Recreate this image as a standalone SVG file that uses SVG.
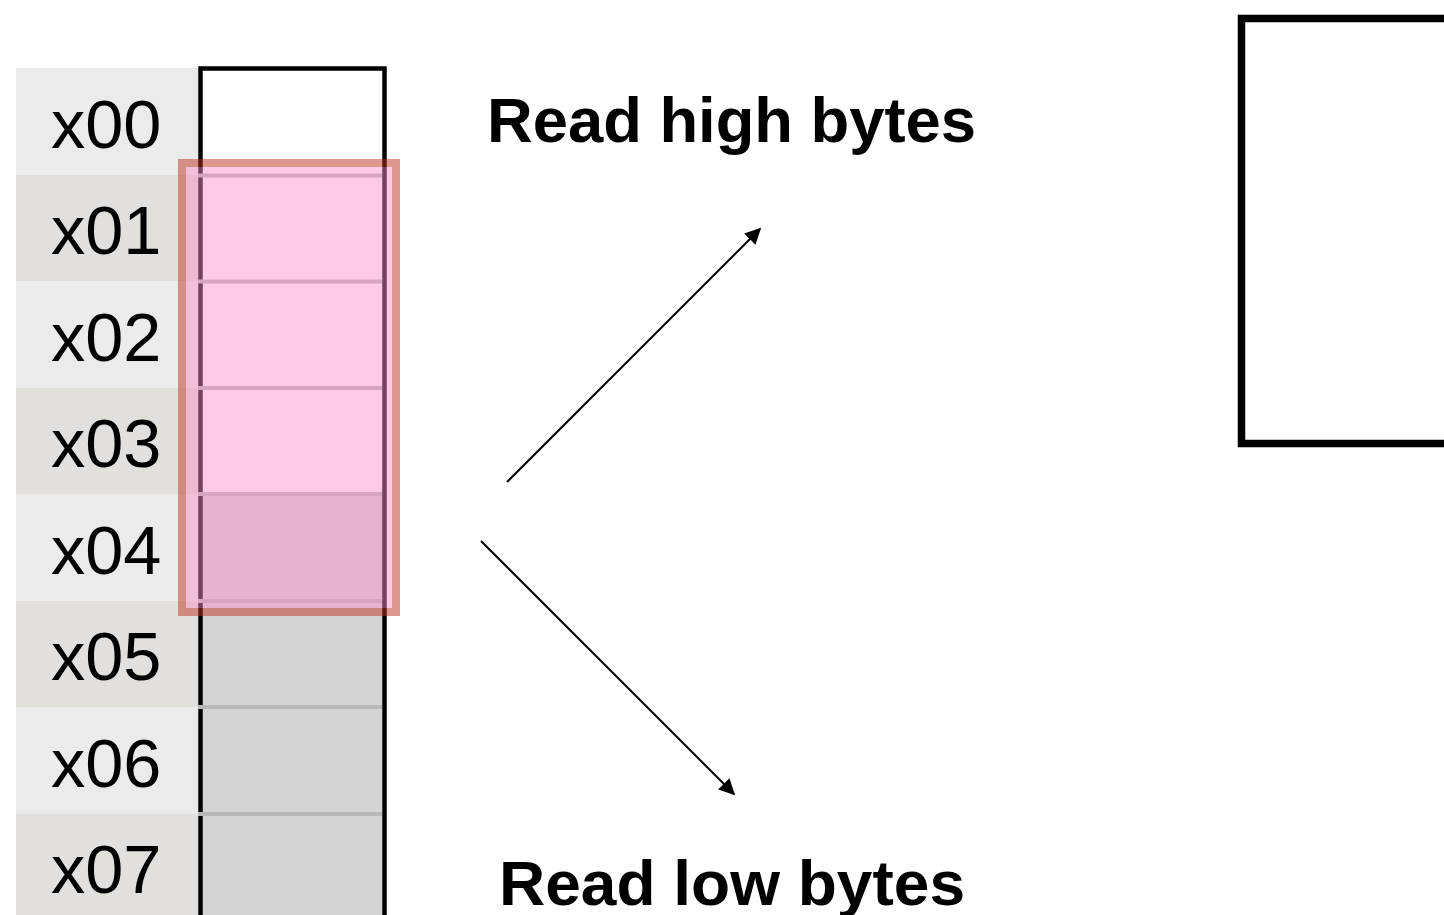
<svg xmlns="http://www.w3.org/2000/svg" width="1444" height="915" viewBox="0 0 1444 915">
<style>
.lbl{font-family:"Liberation Sans",Arial,sans-serif;font-size:68.5px;fill:#000}
.title{font-family:"Liberation Sans",Arial,sans-serif;font-size:63.5px;font-weight:bold;fill:#000}
.rowA{fill:#ebebeb}
.rowB{fill:#e1e0dc}
.sep{fill:#b8b8b8}
.conn{stroke:#000;stroke-width:2;fill:none;marker-end:url(#ah)}
</style>
<defs>
<marker id="ah" viewBox="0 0 10 10" refX="9" refY="5" markerWidth="9" markerHeight="8" markerUnits="strokeWidth" orient="auto">
<path d="M0,0 L10,5 L0,10 z" fill="#000"/>
</marker>
</defs>
<rect width="1444" height="915" fill="#fff"/>
<g id="labels">
<rect class="rowA" x="16" y="68" width="184" height="107"/>
<rect class="rowB" x="16" y="175" width="184" height="106"/>
<rect class="rowA" x="16" y="281" width="184" height="107"/>
<rect class="rowB" x="16" y="388" width="184" height="106"/>
<rect class="rowA" x="16" y="494" width="184" height="107"/>
<rect class="rowB" x="16" y="601" width="184" height="106"/>
<rect class="rowA" x="16" y="707" width="184" height="107"/>
<rect class="rowB" x="16" y="814" width="184" height="101"/>
<text class="lbl" x="51" y="148">x00</text>
<text class="lbl" x="51" y="254">x01</text>
<text class="lbl" x="51" y="361">x02</text>
<text class="lbl" x="51" y="467">x03</text>
<text class="lbl" x="51" y="574">x04</text>
<text class="lbl" x="51" y="680">x05</text>
<text class="lbl" x="51" y="787">x06</text>
<text class="lbl" x="51" y="893">x07</text>
</g>
<g id="memory">
<rect x="200" y="68" width="184" height="426" fill="#fff"/>
<rect x="200" y="494" width="184" height="421" fill="#d4d4d4"/>
<path d="M200.5,915 V68.5 H384.5 V915" fill="none" stroke="#000" stroke-width="4.5"/>
<rect class="sep" x="198" y="173.5" width="184" height="4"/>
<rect class="sep" x="198" y="279.5" width="184" height="4"/>
<rect class="sep" x="198" y="386" width="184" height="4"/>
<rect class="sep" x="198" y="492" width="184" height="4"/>
<rect class="sep" x="198" y="599" width="184" height="4"/>
<rect class="sep" x="198" y="705" width="184" height="4"/>
<rect class="sep" x="198" y="812" width="184" height="4"/>
</g>
<g id="highlight">
<rect x="186" y="167" width="206" height="441" fill="rgb(251,139,197)" fill-opacity="0.465"/>
<rect x="182" y="163" width="214" height="449" fill="none" stroke="rgb(191,49,33)" stroke-opacity="0.5" stroke-width="8"/>
</g>
<g id="rightbox">
<rect x="1241.5" y="18.5" width="220" height="425" fill="#fff" stroke="#000" stroke-width="7.5"/>
</g>
<g id="texts">
<text class="title" x="487" y="142" textLength="489" lengthAdjust="spacingAndGlyphs">Read high bytes</text>
<text class="title" x="499" y="905" textLength="466" lengthAdjust="spacingAndGlyphs">Read low bytes</text>
</g>
<g id="connectors">
<line class="conn" x1="507" y1="482" x2="760" y2="229"/>
<line class="conn" x1="481" y1="541" x2="734" y2="794"/>
</g>
</svg>
